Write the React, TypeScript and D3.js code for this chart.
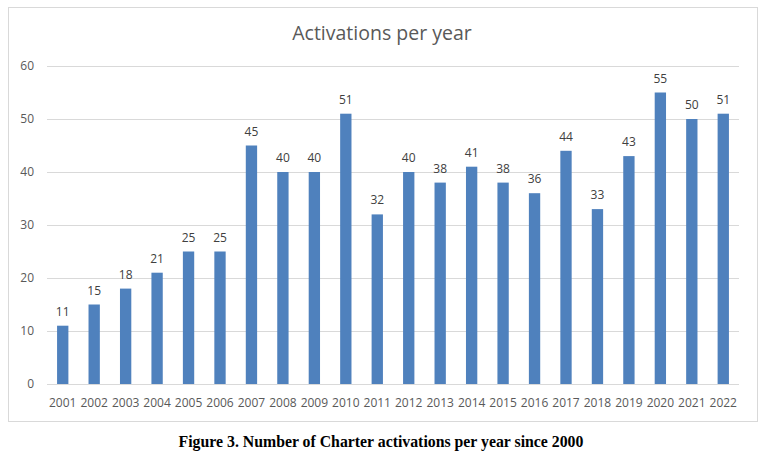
import { useEffect, useRef } from "react";
import * as d3 from "d3";

const years = [
  "2001", "2002", "2003", "2004", "2005", "2006", "2007", "2008", "2009", "2010", "2011",
  "2012", "2013", "2014", "2015", "2016", "2017", "2018", "2019", "2020", "2021", "2022",
];
const activations = [11, 15, 18, 21, 25, 25, 45, 40, 40, 51, 32, 40, 38, 41, 38, 36, 44, 33, 43, 55, 50, 51];
const yTicks = [0, 10, 20, 30, 40, 50, 60];
const chartTitle = "Activations per year";
const caption = "Figure 3. Number of Charter activations per year since 2000";

const W = 768;
const H = 457;

const App = () => {
  const svgRef = useRef<SVGSVGElement | null>(null);

  useEffect(() => {
    const svg = d3.select(svgRef.current);
    svg.selectAll("*").remove();

    const margin = { top: 66, right: 29, bottom: 73, left: 47 };
    const width = W - margin.left - margin.right;
    const height = 384 - margin.top;
    const font = "'Open Sans', 'Liberation Sans', sans-serif";

    svg.append("rect").attr("width", W).attr("height", H).attr("fill", "#fff");

    // chart frame
    svg
      .append("rect")
      .attr("x", 8.5)
      .attr("y", 7.5)
      .attr("width", 749)
      .attr("height", 414)
      .attr("fill", "#fff")
      .attr("stroke", "#d9d9d9");

    svg
      .append("text")
      .attr("x", 382)
      .attr("y", 40)
      .attr("text-anchor", "middle")
      .attr("font-family", font)
      .attr("font-size", 19.5)
      .attr("fill", "#595959")
      .text(chartTitle);

    const g = svg.append("g").attr("transform", `translate(${margin.left},${margin.top})`);

    const x = d3.scaleBand<string>().domain(years).range([0, width]).paddingInner(0.64).paddingOuter(0.32);
    const y = d3.scaleLinear().domain([0, 60]).range([height, 0]);

    g.selectAll(".grid")
      .data(yTicks)
      .join("line")
      .attr("x1", 0)
      .attr("x2", width)
      .attr("y1", (d) => Math.round(y(d)) + 0.5)
      .attr("y2", (d) => Math.round(y(d)) + 0.5)
      .attr("stroke", "#d9d9d9")
      .attr("stroke-width", 1);

    g.selectAll(".ylab")
      .data(yTicks)
      .join("text")
      .attr("x", -13)
      .attr("y", (d) => y(d))
      .attr("dy", "0.35em")
      .attr("text-anchor", "end")
      .attr("font-family", font)
      .attr("font-size", 12)
      .attr("fill", "#595959")
      .text((d) => d);

    g.selectAll(".bar")
      .data(activations)
      .join("rect")
      .attr("x", (_, i) => x(years[i])!)
      .attr("y", (d) => y(d))
      .attr("width", x.bandwidth())
      .attr("height", (d) => height - y(d))
      .attr("fill", "#4f81bd");

    g.selectAll(".val")
      .data(activations)
      .join("text")
      .attr("x", (_, i) => x(years[i])! + x.bandwidth() / 2)
      .attr("y", (d) => y(d) - 10)
      .attr("text-anchor", "middle")
      .attr("font-family", font)
      .attr("font-size", 12)
      .attr("fill", "#404040")
      .text((d) => d);

    g.selectAll(".xlab")
      .data(years)
      .join("text")
      .attr("x", (d) => x(d)! + x.bandwidth() / 2)
      .attr("y", height + 23)
      .attr("text-anchor", "middle")
      .attr("font-family", font)
      .attr("font-size", 12)
      .attr("fill", "#595959")
      .text((d) => d);

    svg
      .append("text")
      .attr("x", 381)
      .attr("y", 447)
      .attr("text-anchor", "middle")
      .attr("font-family", "'Liberation Serif', 'Times New Roman', serif")
      .attr("font-weight", "bold")
      .attr("font-size", 15.8)
      .attr("fill", "#000")
      .text(caption);
  }, []);

  return (
    <div style={{ position: "fixed", left: 0, top: 0 }}>
      <svg ref={svgRef} width={W} height={H} style={{ display: "block" }}></svg>
    </div>
  );
};

export default App;
